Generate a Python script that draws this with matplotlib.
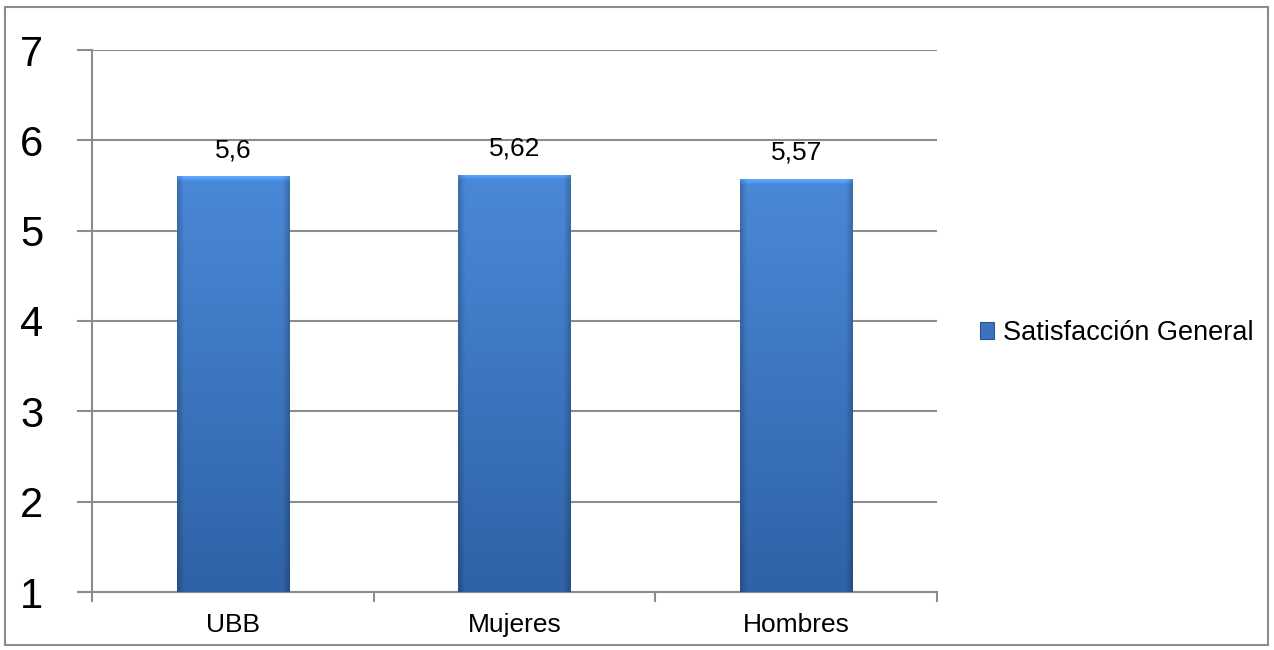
import numpy as np
import matplotlib
matplotlib.use("Agg")
import matplotlib.pyplot as plt
from matplotlib.patches import Rectangle, Patch

# ---------- DATA ----------
categories = ["UBB", "Mujeres", "Hombres"]
values = [5.6, 5.62, 5.57]
value_labels = ["5,6", "5,62", "5,57"]
series_name = "Satisfacción General"
y_ticks = [1, 2, 3, 4, 5, 6, 7]

# ---------- STYLE ----------
plt.rcParams["font.family"] = ["Liberation Sans", "DejaVu Sans"]
GRID = "#8c8c8c"
TOP_C = np.array([0x4a, 0x89, 0xd8]) / 255
BOT_C = np.array([0x2f, 0x62, 0xa6]) / 255


def bar_gradient(n=400):
    t = np.linspace(0, 1, n)[:, None, None]
    img = TOP_C * (1 - t) + BOT_C * t
    img = np.repeat(img, 80, axis=1)
    # darker side edges
    x = np.linspace(-1, 1, 80)
    shade = 1 - 0.2 * np.clip((np.abs(x) - 0.88) / 0.12, 0, 1)
    img = img * shade[None, :, None]
    # soft light bevel at the top
    bevel = np.linspace(1.25, 1.0, 6)
    img[:6] = np.clip(img[:6] * bevel[:, None, None], 0, 1)
    return img


fig = plt.figure(figsize=(12.74, 6.5), dpi=100)
ax = fig.add_axes([92 / 1274, 1 - 592 / 650, 845 / 1274, 542 / 650])

x = np.arange(len(categories))
bars = ax.bar(x, [v - 1 for v in values], bottom=1, width=0.4,
              color=BOT_C, edgecolor="none", zorder=3)

grad = bar_gradient()
for rect in bars:
    x0, y0 = rect.get_x(), rect.get_y()
    w, h = rect.get_width(), rect.get_height()
    im = ax.imshow(grad, extent=[x0, x0 + w, y0, y0 + h], aspect="auto",
                   zorder=4, interpolation="bilinear")
    im.set_clip_path(rect)

for xi, v, lab in zip(x, values, value_labels):
    ax.text(xi, v + 0.16, lab, ha="center", va="bottom", fontsize=19,
            color="#000000", zorder=5)

ax.set_xlim(-0.5, len(categories) - 0.5)
ax.set_ylim(1, 7)
ax.set_yticks(y_ticks)
ax.set_yticklabels([str(t) for t in y_ticks], fontsize=30)
ax.set_xticks(x)
ax.set_xticklabels(categories, fontsize=19)
ax.set_xticks(np.arange(len(categories) + 1) - 0.5, minor=True)

ax.yaxis.grid(True, color=GRID, linewidth=1.5, zorder=0)
ax.set_axisbelow(True)
ax.tick_params(axis="y", length=11, width=1.5, color=GRID, pad=24,
               direction="out")
ax.tick_params(axis="x", which="major", length=0, pad=15)
ax.tick_params(axis="x", which="minor", length=7, width=1.5, color=GRID,
               direction="out")
for s in ["top", "right"]:
    ax.spines[s].set_visible(False)
for s in ["left", "bottom"]:
    ax.spines[s].set_color(GRID)
    ax.spines[s].set_linewidth(1.5)

handle = Patch(facecolor="#3a73c0", edgecolor="#2a5595", linewidth=0.8)
fig.legend([handle], [series_name], loc="center left",
           bbox_to_anchor=(966 / 1274, 1 - 333 / 650), frameon=False,
           fontsize=19.5, handlelength=0.55, handleheight=0.55,
           handletextpad=0.3, borderpad=0)

fig.patches.append(Rectangle((5 / 1274, 5 / 650), 1263 / 1274, 638 / 650,
                             transform=fig.transFigure, fill=False,
                             edgecolor="#8c8c8c", linewidth=1.5))

fig.savefig("out.png", dpi=100)
